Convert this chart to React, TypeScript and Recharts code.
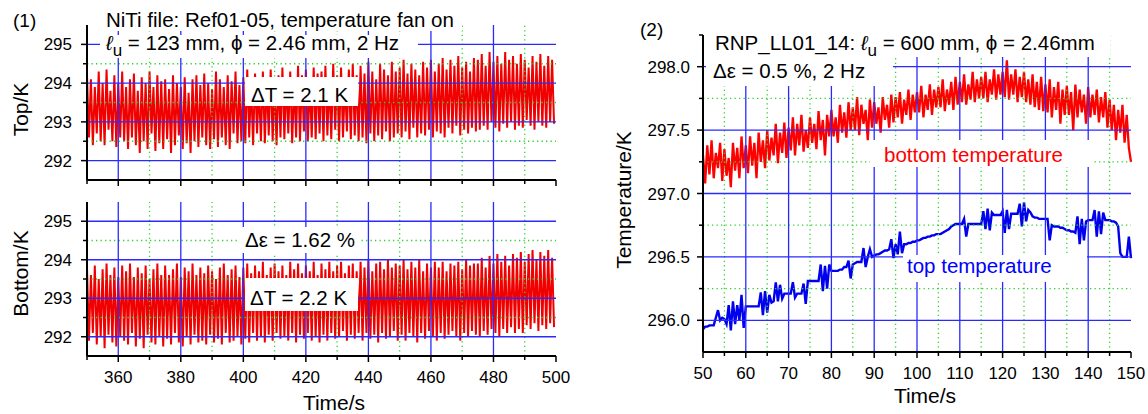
import React from "react";
import { LineChart, Line, XAxis, YAxis, ReferenceLine, Label } from "recharts";

const FONT = "'Liberation Sans', Arial, Helvetica, sans-serif";

// panel (1): one value every 0.625 s starting at 350 s
const LEFT_T0 = 350;
const LEFT_DT = 0.625;

const topK = [
  294.2, 292.6, 294.1, 292.4, 293.9, 292.7, 294.3, 292.5, 294.0, 292.4, 294.35, 292.8, 293.8, 292.5, 294.2, 292.35, 294.0, 292.6, 294.3, 292.5,
  293.9, 292.3, 294.1, 292.6, 294.25, 292.4, 293.8, 292.2, 294.15, 292.5, 294.0, 292.3, 294.3, 292.7, 293.9, 292.25, 294.2, 292.45, 294.05, 292.3,
  294.1, 292.55, 293.85, 292.2, 294.2, 292.4, 294.0, 292.65, 293.9, 292.3, 294.15, 292.45, 293.75, 292.2, 294.1, 292.5, 294.2, 292.35, 293.95, 292.6,
  294.25, 292.4, 294.0, 292.3, 293.85, 292.55, 294.3, 292.35, 294.1, 292.6, 293.9, 292.4, 294.2, 292.3, 294.05, 292.7, 294.3, 292.45, 293.95, 292.5,
  294.15, 292.45, 294.35, 292.6, 294.0, 292.4, 294.25, 292.7, 293.9, 292.5, 294.3, 292.45, 294.1, 292.65, 294.35, 292.5, 294.0, 292.4, 294.2, 292.6,
  294.4, 292.55, 294.1, 292.7, 294.3, 292.45, 294.0, 292.6, 294.45, 292.5, 294.2, 292.75, 294.35, 292.5, 294.05, 292.6, 294.4, 292.55, 294.25, 292.7,
  294.3, 292.5, 294.45, 292.65, 294.1, 292.55, 294.5, 292.8, 294.2, 292.5, 294.4, 292.6, 294.05, 292.75, 294.35, 292.55, 294.5, 292.65, 294.2, 292.5,
  294.45, 292.6, 294.25, 292.45, 294.55, 292.7, 294.3, 292.5, 294.1, 292.65, 294.5, 292.55, 294.35, 292.75, 294.2, 292.5, 294.55, 292.6, 294.3, 292.7,
  294.4, 292.6, 294.6, 292.75, 294.25, 292.55, 294.5, 292.85, 294.35, 292.6, 294.2, 292.7, 294.55, 292.65, 294.4, 292.8, 294.6, 292.6, 294.3, 292.75,
  294.5, 292.7, 294.65, 292.6, 294.35, 292.85, 294.6, 292.7, 294.45, 292.9, 294.7, 292.65, 294.4, 292.8, 294.55, 292.7, 294.3, 292.85, 294.65, 292.75,
  294.6, 292.8, 294.75, 292.9, 294.45, 292.8, 294.8, 293.0, 294.55, 292.85, 294.7, 292.75, 294.5, 292.95, 294.8, 292.85, 294.6, 293.0, 294.7, 292.8,
  294.5, 292.9, 294.75, 292.85, 294.6, 293.05, 294.4, 292.9, 294.7, 292.8, 294.55, 293.0, 294.75, 292.9, 294.45, 292.85, 294.7, 293.0, 294.6, 292.95,
];

const bottomK = [
  293.8, 291.9, 293.6, 292.1, 293.85, 291.8, 293.5, 292.0, 293.75, 291.7, 293.9, 292.05, 293.6, 291.85, 293.8, 291.75, 293.55, 292.0, 293.85, 291.9,
  293.7, 291.8, 293.9, 292.1, 293.55, 291.75, 293.8, 291.95, 293.65, 291.7, 293.85, 292.05, 293.5, 291.85, 293.75, 291.8, 293.9, 292.0, 293.6, 291.75,
  293.85, 291.95, 293.6, 291.8, 293.75, 292.1, 293.9, 291.85, 293.55, 291.75, 293.8, 292.0, 293.7, 291.8, 293.9, 292.05, 293.6, 291.85, 293.8, 291.9,
  293.65, 291.8, 293.85, 292.05, 293.7, 291.85, 293.5, 291.95, 293.8, 291.8, 293.9, 292.1, 293.6, 291.85, 293.75, 291.9, 293.85, 292.0, 293.55, 291.8,
  293.8, 291.95, 293.9, 291.85, 293.65, 292.1, 293.85, 291.9, 293.7, 292.0, 293.95, 291.85, 293.6, 292.05, 293.8, 291.9, 293.9, 292.1, 293.7, 291.95,
  293.85, 292.0, 293.6, 291.9, 293.95, 292.1, 293.75, 291.85, 293.9, 292.05, 293.65, 291.95, 293.85, 292.1, 293.7, 291.9, 293.95, 292.0, 293.6, 291.85,
  293.9, 292.05, 293.75, 291.9, 293.95, 292.1, 293.7, 291.95, 293.85, 292.0, 293.95, 292.15, 293.65, 291.9, 293.85, 292.05, 293.9, 291.95, 293.7, 292.1,
  293.95, 291.9, 293.8, 292.1, 294.0, 291.95, 293.7, 292.05, 293.9, 291.85, 293.95, 292.1, 293.75, 291.95, 294.0, 292.0, 293.8, 292.15, 293.9, 291.9,
  293.85, 292.05, 294.0, 291.9, 293.75, 292.1, 293.95, 292.0, 293.8, 291.85, 294.0, 292.1, 293.7, 291.95, 293.9, 292.15, 293.8, 292.0, 293.95, 291.9,
  293.8, 292.1, 293.95, 291.95, 293.7, 292.05, 293.9, 292.15, 293.85, 292.0, 293.95, 291.9, 293.75, 292.1, 294.0, 292.0, 293.85, 292.15, 293.9, 292.05,
  293.9, 292.0, 294.05, 292.15, 293.8, 292.05, 294.1, 292.2, 293.9, 292.1, 294.15, 292.0, 293.95, 292.2, 294.1, 292.1, 293.85, 292.25, 294.15, 292.1,
  294.05, 292.2, 294.2, 292.1, 293.95, 292.3, 294.15, 292.2, 294.25, 292.35, 294.0, 292.15, 294.2, 292.3, 294.1, 292.2, 294.25, 292.35, 294.05, 292.25,
];

// panel (2): one value every 0.5 s from 50 s to 150 s
const RIGHT_T0 = 50;
const RIGHT_DT = 0.5;

const bottomTemp = [
  297.3, 297.08, 297.38, 297.15, 297.42, 297.12, 297.32, 297.2, 297.4, 297.1,
  297.35, 297.14, 297.28, 297.05, 297.4, 297.18, 297.36, 297.12, 297.45, 297.2,
  297.38, 297.16, 297.45, 297.22, 297.4, 297.12, 297.48, 297.25, 297.42, 297.2,
  297.5, 297.26, 297.44, 297.3, 297.55, 297.24, 297.48, 297.32, 297.56, 297.28,
  297.52, 297.34, 297.6, 297.3, 297.55, 297.38, 297.62, 297.33, 297.5, 297.36,
  297.6, 297.4, 297.55, 297.35, 297.65, 297.42, 297.58, 297.3, 297.62, 297.45,
  297.66, 297.45, 297.6, 297.4, 297.7, 297.48, 297.64, 297.44, 297.72, 297.5,
  297.68, 297.5, 297.76, 297.46, 297.7, 297.55, 297.66, 297.42, 297.74, 297.52,
  297.72, 297.55, 297.68, 297.48, 297.76, 297.58, 297.7, 297.52, 297.78, 297.56,
  297.76, 297.6, 297.8, 297.55, 297.74, 297.62, 297.82, 297.58, 297.78, 297.64,
  297.8, 297.64, 297.85, 297.6, 297.78, 297.66, 297.86, 297.62, 297.82, 297.68,
  297.84, 297.68, 297.9, 297.65, 297.82, 297.7, 297.88, 297.66, 297.92, 297.7,
  297.88, 297.72, 297.94, 297.7, 297.86, 297.74, 297.96, 297.72, 297.9, 297.75,
  297.92, 297.75, 297.96, 297.72, 297.9, 297.78, 297.98, 297.74, 297.94, 297.78,
  297.96, 297.76, 298.05, 297.74, 297.94, 297.78, 297.98, 297.72, 297.92, 297.76,
  297.96, 297.72, 297.9, 297.7, 297.94, 297.68, 297.88, 297.66, 297.92, 297.65,
  297.86, 297.64, 297.9, 297.6, 297.84, 297.66, 297.88, 297.55, 297.82, 297.62,
  297.85, 297.62, 297.8, 297.5, 297.86, 297.6, 297.82, 297.64, 297.78, 297.55,
  297.84, 297.6, 297.78, 297.62, 297.82, 297.56, 297.76, 297.6, 297.8, 297.52,
  297.74, 297.5, 297.7, 297.42, 297.66, 297.48, 297.7, 297.4, 297.62, 297.36,
  297.25,
];

const topTemp = [
  295.93, 295.95, 295.95, 295.96, 295.96, 295.96, 296.02, 296.08, 296.0, 296.02,
  296.01, 295.97, 296.12, 295.92, 296.15, 295.97, 296.12, 296.0, 296.2, 295.94,
  296.11, 296.11, 296.11, 296.11, 296.11, 296.11, 296.11, 296.22, 296.04, 296.23,
  296.06, 296.2, 296.14, 296.15, 296.3, 296.15, 296.28, 296.17, 296.21, 296.21,
  296.21, 296.21, 296.3, 296.18, 296.21, 296.21, 296.21, 296.29, 296.13, 296.31,
  296.31, 296.31, 296.31, 296.31, 296.31, 296.44, 296.23, 296.43, 296.25, 296.44,
  296.39, 296.39, 296.39, 296.39, 296.4, 296.4, 296.42, 296.42, 296.47, 296.33,
  296.44, 296.45, 296.46, 296.46, 296.46, 296.57, 296.42, 296.5, 296.56, 296.5,
  296.51, 296.52, 296.52, 296.53, 296.54, 296.55, 296.55, 296.56, 296.64, 296.49,
  296.6, 296.52, 296.7, 296.53, 296.6, 296.6, 296.61, 296.61, 296.62, 296.62,
  296.63, 296.63, 296.64, 296.65, 296.65, 296.66, 296.66, 296.67, 296.67, 296.68,
  296.68, 296.68, 296.69, 296.7, 296.71, 296.72, 296.74, 296.75, 296.76, 296.76,
  296.76, 296.76, 296.8, 296.66, 296.76, 296.76, 296.76, 296.76, 296.76, 296.76,
  296.76, 296.86, 296.72, 296.88, 296.71, 296.85, 296.83, 296.83, 296.83, 296.83,
  296.86, 296.69, 296.87, 296.72, 296.84, 296.84, 296.84, 296.84, 296.92, 296.74,
  296.93, 296.78, 296.87, 296.85, 296.82, 296.81, 296.81, 296.8, 296.8, 296.8,
  296.8, 296.8, 296.63, 296.75, 296.74, 296.74, 296.74, 296.73, 296.73, 296.72,
  296.71, 296.71, 296.7, 296.7, 296.69, 296.82, 296.6, 296.8, 296.63, 296.78,
  296.79, 296.79, 296.79, 296.87, 296.66, 296.86, 296.68, 296.85, 296.79, 296.79,
  296.79, 296.78, 296.78, 296.77, 296.74, 296.53, 296.5, 296.5, 296.5, 296.66,
  296.49,
];

// ticks and grid
const leftXTicks = [350, 360, 370, 380, 390, 400, 410, 420, 430, 440, 450, 460, 470, 480, 490, 500];
const leftXLabels = [360, 380, 400, 420, 440, 460, 480, 500];
const leftYTicks = [292, 292.5, 293, 293.5, 294, 294.5, 295];
const leftYLabels = [292, 293, 294, 295];
const leftXGridMajor = [360, 380, 400, 420, 440, 460, 480];
const leftXGridMinor = [370, 390, 410, 430, 450, 470, 490];
const leftYGridMajor = [292, 293, 294, 295];
const leftYGridMinor = [292.5, 293.5, 294.5];

const rightXTicks = [50, 55, 60, 65, 70, 75, 80, 85, 90, 95, 100, 105, 110, 115, 120, 125, 130, 135, 140, 145, 150];
const rightXLabels = [50, 60, 70, 80, 90, 100, 110, 120, 130, 140, 150];
const rightYTicks = [296, 296.25, 296.5, 296.75, 297, 297.25, 297.5, 297.75, 298, 298.25];
const rightYLabels = [296, 296.5, 297, 297.5, 298];
const rightXGridMajor = [60, 70, 80, 90, 100, 110, 120, 130, 140];
const rightXGridMinor = [55, 65, 75, 85, 95, 105, 115, 125, 135, 145];
const rightYGridMajor = [296, 296.5, 297, 297.5, 298];
const rightYGridMinor = [296.25, 296.75, 297.25, 297.75];

const topData = topK.map((v, i) => ({ t: LEFT_T0 + i * LEFT_DT, v }));
const bottomData = bottomK.map((v, i) => ({ t: LEFT_T0 + i * LEFT_DT, v }));
const rightData = bottomTemp.map((v, i) => ({ t: RIGHT_T0 + i * RIGHT_DT, bottom: v, top: topTemp[i] }));

const BLUE = "#2a2aff";
const GREEN = "#2fd12f";

const xTick = (labels: number[], show: boolean) => (p: any) => {
  const major = labels.includes(p.payload.value);
  return (
    <g>
      <line x1={p.x} x2={p.x} y1={p.y} y2={p.y + (major ? 6 : 4)} stroke="#000" strokeWidth={1.5} />
      {show && major && (
        <text x={p.x} y={p.y + 27} textAnchor="middle" fontSize={17} fontFamily={FONT} fill="#000">
          {p.payload.value}
        </text>
      )}
    </g>
  );
};

const yTick = (labels: number[], fmt: (v: number) => string, gap: number) => (p: any) => {
  const major = labels.includes(p.payload.value);
  return (
    <g>
      <line x1={p.x} x2={p.x - (major ? 6 : 4)} y1={p.y} y2={p.y} stroke="#000" strokeWidth={1.5} />
      {major && (
        <text x={p.x - gap} y={p.y} dy="0.36em" textAnchor="end" fontSize={17} fontFamily={FONT} fill="#000">
          {fmt(p.payload.value)}
        </text>
      )}
    </g>
  );
};

const vTitle = (text: string, cx: number, cy: number) => () => (
  <text
    x={cx}
    y={cy}
    dy="0.36em"
    textAnchor="middle"
    transform={`rotate(-90, ${cx}, ${cy})`}
    fontSize={21}
    fontFamily={FONT}
    fill="#000"
  >
    {text}
  </text>
);

const hTitle = (text: string, cx: number, y: number) => () => (
  <text x={cx} y={y} textAnchor="middle" fontSize={21} fontFamily={FONT} fill="#000">
    {text}
  </text>
);

const grid = (xMaj: number[], xMin: number[], yMaj: number[], yMin: number[]) => [
  ...yMin.map((v) => <ReferenceLine key={`ym${v}`} y={v} stroke={GREEN} strokeWidth={1.3} strokeDasharray="1.3 3.2" />),
  ...xMin.map((v) => <ReferenceLine key={`xm${v}`} x={v} stroke={GREEN} strokeWidth={1.3} strokeDasharray="1.3 3.2" />),
  ...yMaj.map((v) => <ReferenceLine key={`yM${v}`} y={v} stroke={BLUE} strokeWidth={1.3} />),
  ...xMaj.map((v) => <ReferenceLine key={`xM${v}`} x={v} stroke={BLUE} strokeWidth={1.3} />),
];

const axisLine = { stroke: "#000", strokeWidth: 2 };

const Box = ({ x, y, w, h }: { x: number; y: number; w: number; h: number }) => (
  <rect x={x} y={y} width={w} height={h} fill="#fff" />
);

const Ell = ({ sub }: { sub: string }) => (
  <>
    <tspan fontStyle="italic">ℓ</tspan>
    <tspan dy={6} fontSize={17}>{sub}</tspan>
    <tspan dy={-6}> </tspan>
  </>
);

export default function App() {
  return (
    <div style={{ position: "absolute", left: 0, top: 0, width: 1148, height: 414, background: "#fff" }}>
      <div style={{ position: "absolute", left: 0, top: 0 }}>
        <LineChart width={580} height={200} data={topData} margin={{ top: 25, right: 24, bottom: 0, left: 27 }}>
          <XAxis
            dataKey="t"
            type="number"
            domain={[350, 500]}
            ticks={leftXTicks}
            interval={0}
            height={20}
            tickSize={0}
            tickMargin={0}
            tickLine={false}
            axisLine={axisLine}
            tick={xTick(leftXLabels, false)}
          />
          <YAxis
            type="number"
            domain={[291.5, 295.5]}
            ticks={leftYTicks}
            interval={0}
            width={60}
            tickSize={0}
            tickMargin={0}
            tickLine={false}
            axisLine={axisLine}
            tick={yTick(leftYLabels, (v) => String(v), 15)}
          >
            <Label content={vTitle("Top/K", 20.5, 109.5)} />
          </YAxis>
          <Line dataKey="v" stroke="#f00000" strokeWidth={2} dot={false} isAnimationActive={false} />
          {grid(leftXGridMajor, leftXGridMinor, leftYGridMajor, leftYGridMinor)}
        </LineChart>
      </div>

      <div style={{ position: "absolute", left: 0, top: 190 }}>
        <LineChart width={580} height={224} data={bottomData} margin={{ top: 12, right: 24, bottom: 0, left: 27 }}>
          <XAxis
            dataKey="t"
            type="number"
            domain={[350, 500]}
            ticks={leftXTicks}
            interval={0}
            height={58}
            tickSize={0}
            tickMargin={0}
            tickLine={false}
            axisLine={axisLine}
            tick={xTick(leftXLabels, true)}
          >
            <Label content={hTitle("Time/s", 334, 220)} />
          </XAxis>
          <YAxis
            type="number"
            domain={[291.5, 295.5]}
            ticks={leftYTicks}
            interval={0}
            width={60}
            tickSize={0}
            tickMargin={0}
            tickLine={false}
            axisLine={axisLine}
            tick={yTick(leftYLabels, (v) => String(v), 15)}
          >
            <Label content={vTitle("Bottom/K", 20.5, 83.5)} />
          </YAxis>
          <Line dataKey="v" stroke="#f00000" strokeWidth={2} dot={false} isAnimationActive={false} />
          {grid(leftXGridMajor, leftXGridMinor, leftYGridMajor, leftYGridMinor)}
        </LineChart>
      </div>

      <div style={{ position: "absolute", left: 580, top: 0 }}>
        <LineChart width={568} height={414} data={rightData} margin={{ top: 35, right: 17, bottom: 0, left: 63 }}>
          <XAxis
            dataKey="t"
            type="number"
            domain={[50, 150]}
            ticks={rightXTicks}
            interval={0}
            height={62}
            tickSize={0}
            tickMargin={0}
            tickLine={false}
            axisLine={axisLine}
            tick={xTick(rightXLabels, true)}
          >
            <Label content={hTitle("Time/s", 345, 403)} />
          </XAxis>
          <YAxis
            type="number"
            domain={[295.75, 298.25]}
            ticks={rightYTicks}
            interval={0}
            width={60}
            tickSize={0}
            tickMargin={0}
            tickLine={false}
            axisLine={axisLine}
            tick={yTick(rightYLabels, (v) => v.toFixed(1), 13)}
          >
            <Label content={vTitle("Temperature/K", 43, 200)} />
          </YAxis>
          <Line dataKey="bottom" stroke="#ff0000" strokeWidth={2.3} dot={false} isAnimationActive={false} />
          <Line dataKey="top" stroke="#0000ee" strokeWidth={2.4} dot={false} isAnimationActive={false} />
          {grid(rightXGridMajor, rightXGridMinor, rightYGridMajor, rightYGridMinor)}
        </LineChart>
      </div>

      <svg
        width={1148}
        height={414}
        style={{ position: "absolute", left: 0, top: 0, pointerEvents: "none" }}
        fontFamily={FONT}
        fontSize={20.5}
      >
        <Box x={100} y={4} w={362} h={27} />
        <Box x={100} y={35} w={318} h={23} />
        <Box x={245} y={77} w={113} h={29} />
        <Box x={240} y={227} w={119} h={26} />
        <Box x={245} y={278} w={113} h={33} />
        <Box x={710} y={28} w={400} h={29} />
        <Box x={706} y={57} w={187} h={29} />
        <Box x={870} y={140} w={223} h={27} />
        <Box x={903} y={255} w={184} h={27} />

        <text x={13} y={27} fontSize={19}>(1)</text>
        <text x={106} y={27}>NiTi file: Ref01-05, temperature fan on</text>
        <text x={106} y={50}>
          <Ell sub="u" />= 123 mm, ϕ = 2.46 mm, 2 Hz
        </text>
        <text x={251} y={101.5}>ΔT = 2.1 K</text>
        <text x={245} y={247}>Δε = 1.62 %</text>
        <text x={250} y={305}>ΔT = 2.2 K</text>

        <text x={640} y={36} fontSize={19}>(2)</text>
        <text x={715} y={50}>
          RNP_LL01_14: <Ell sub="u" />= 600 mm, ϕ = 2.46mm
        </text>
        <text x={713} y={78}>Δε = 0.5 %, 2 Hz</text>
        <text x={884} y={162} fill="#ff0000">bottom temperature</text>
        <text x={907} y={273} fill="#0000ff">top temperature</text>
      </svg>
    </div>
  );
}
